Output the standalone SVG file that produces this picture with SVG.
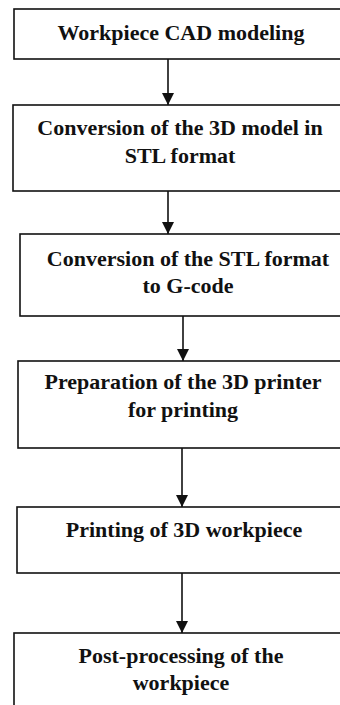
<svg xmlns="http://www.w3.org/2000/svg" width="340" height="705" viewBox="0 0 340 705">
<style>
.box{fill:#fff;stroke:#111;stroke-width:1.6}
.lbl{font-family:"Liberation Serif","Times New Roman",serif;font-weight:bold;font-size:22px;fill:#111;text-anchor:middle}
.conn{stroke:#111;stroke-width:1.6;fill:none}
</style>
<defs>
<marker id="ah" markerUnits="userSpaceOnUse" markerWidth="12" markerHeight="12" refX="12" refY="6" orient="auto">
<path d="M0,0 L12,6 L0,12 Z" fill="#111"/>
</marker>
</defs>
<rect width="340" height="705" fill="#fff"/>
<g id="connectors">
<line class="conn" x1="168" y1="59" x2="168" y2="105" marker-end="url(#ah)"/>
<line class="conn" x1="168" y1="191" x2="168" y2="234" marker-end="url(#ah)"/>
<line class="conn" x1="183" y1="316" x2="183" y2="361" marker-end="url(#ah)"/>
<line class="conn" x1="182" y1="448" x2="182" y2="507" marker-end="url(#ah)"/>
<line class="conn" x1="182" y1="573" x2="182" y2="633" marker-end="url(#ah)"/>
</g>
<g id="n1">
<rect class="box" x="14" y="9" width="340" height="50"/>
<text class="lbl" x="181" y="40">Workpiece CAD modeling</text>
</g>
<g id="n2">
<rect class="box" x="13" y="105" width="340" height="86"/>
<text class="lbl" x="180" y="135">Conversion of the 3D model in</text>
<text class="lbl" x="180" y="163">STL format</text>
</g>
<g id="n3">
<rect class="box" x="20" y="234" width="340" height="82"/>
<text class="lbl" x="188" y="266">Conversion of the STL format</text>
<text class="lbl" x="188" y="293">to G-code</text>
</g>
<g id="n4">
<rect class="box" x="18" y="361" width="340" height="87"/>
<text class="lbl" x="183" y="389">Preparation of the 3D printer</text>
<text class="lbl" x="183" y="417">for printing</text>
</g>
<g id="n5">
<rect class="box" x="17" y="507" width="340" height="66"/>
<text class="lbl" x="184" y="537">Printing of 3D workpiece</text>
</g>
<g id="n6">
<rect class="box" x="14" y="633" width="340" height="90"/>
<text class="lbl" x="181" y="663">Post-processing of the</text>
<text class="lbl" x="181" y="690">workpiece</text>
</g>
</svg>
